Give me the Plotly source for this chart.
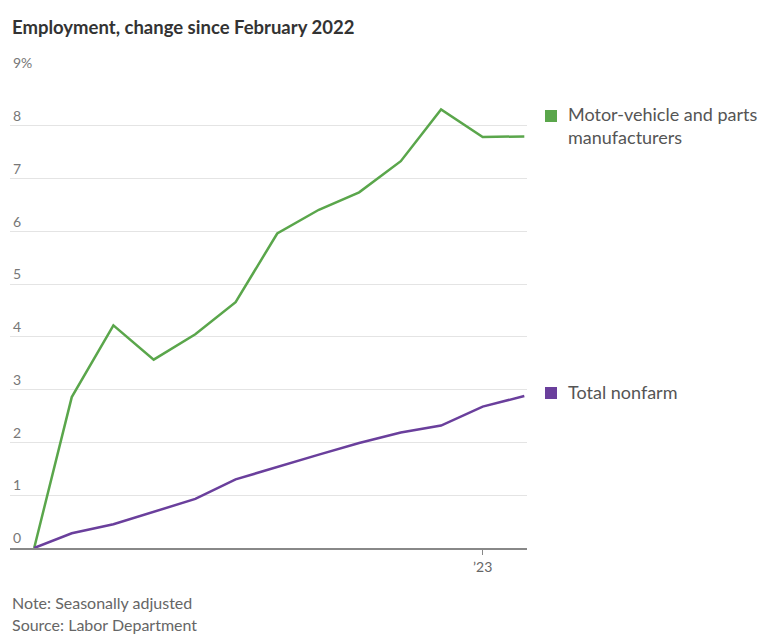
import plotly.graph_objects as go

months = ["2022-02-01", "2022-03-01", "2022-04-01", "2022-05-01", "2022-06-01", "2022-07-01",
          "2022-08-01", "2022-09-01", "2022-10-01", "2022-11-01", "2022-12-01", "2023-01-01",
          "2023-02-01"]
motor_vehicle = [0, 2.86, 4.22, 3.57, 4.05, 4.66, 5.96, 6.41, 6.74, 7.33, 8.31, 7.79, 7.80]
total_nonfarm = [0, 0.28, 0.45, 0.69, 0.93, 1.30, 1.54, 1.77, 1.99, 2.19, 2.32, 2.68, 2.88]

y_ticks = [0, 1, 2, 3, 4, 5, 6, 7, 8, 9]
y_ticktext = ["0", "1", "2", "3", "4", "5", "6", "7", "8", "9%"]
x_tickvals = ["2023-01-01"]
x_ticktext = ["’23"]

GREEN = "#5aa64b"
PURPLE = "#6a3f9c"
FONT = "Lato"

OFF = 8  # page body margin
W, H = 773 - OFF, 639 - OFF
L, R, T, B = 10 - OFF, 246, 73 - OFF, 91
pw, ph = W - L - R, H - T - B

def px(x):
    return (x - OFF - L) / pw

def py(y):
    return (H - B - (y - OFF)) / ph

fig = go.Figure()
fig.add_trace(go.Scatter(x=months, y=motor_vehicle, mode="lines",
                         line=dict(color=GREEN, width=2.5), name="Motor-vehicle and parts manufacturers"))
fig.add_trace(go.Scatter(x=months, y=total_nonfarm, mode="lines",
                         line=dict(color=PURPLE, width=2.5), name="Total nonfarm"))

fig.update_layout(
    width=W, height=H,
    margin=dict(l=L, r=R, t=T, b=B),
    paper_bgcolor="white", plot_bgcolor="white",
    showlegend=False,
    font=dict(family=FONT, color="#555"),
    xaxis=dict(type="date", range=["2022-01-14", "2023-02-03"],
               tickvals=x_tickvals, ticktext=x_ticktext,
               ticks="outside", ticklen=5, tickcolor="#888", tickwidth=1,
               showgrid=False, zeroline=False, showline=True, linecolor="#888", linewidth=1.5,
               tickfont=dict(size=14, color="#666", family=FONT)),
    yaxis=dict(range=[0, 9.002], tickvals=y_ticks, ticktext=y_ticktext,
               ticklabelposition="inside top", ticklabeloverflow="allow",
               showgrid=True, gridcolor="#e4e4e4", gridwidth=1,
               zeroline=False, showline=False, ticks="",
               tickfont=dict(size=14, color="#777", family=FONT)),
)

annotations = [
    dict(text="<b>Employment, change since February 2022</b>", x=px(10), y=py(27),
         xanchor="left", yanchor="middle", font=dict(size=18.5, color="#333", family=FONT)),
    dict(text="Note: Seasonally adjusted", x=px(10), y=py(602),
         xanchor="left", yanchor="middle", font=dict(size=16, color="#666", family=FONT)),
    dict(text="Source: Labor Department", x=px(10), y=py(624),
         xanchor="left", yanchor="middle", font=dict(size=16, color="#666", family=FONT)),
    dict(text="Motor-vehicle and parts<br>manufacturers", x=px(566), y=py(126),
         xanchor="left", yanchor="middle", align="left",
         font=dict(size=18, color="#555", family=FONT)),
    dict(text="Total nonfarm", x=px(566), y=py(392),
         xanchor="left", yanchor="middle", align="left",
         font=dict(size=18, color="#555", family=FONT)),
]
for a in annotations:
    a.update(xref="paper", yref="paper", showarrow=False)
fig.update_layout(annotations=annotations)

for color, cy in [(GREEN, 116), (PURPLE, 393)]:
    fig.add_shape(type="rect", xref="paper", yref="paper",
                  x0=px(545), x1=px(557), y0=py(cy + 6), y1=py(cy - 6),
                  fillcolor=color, line=dict(width=0))

fig.write_html("out.html")
